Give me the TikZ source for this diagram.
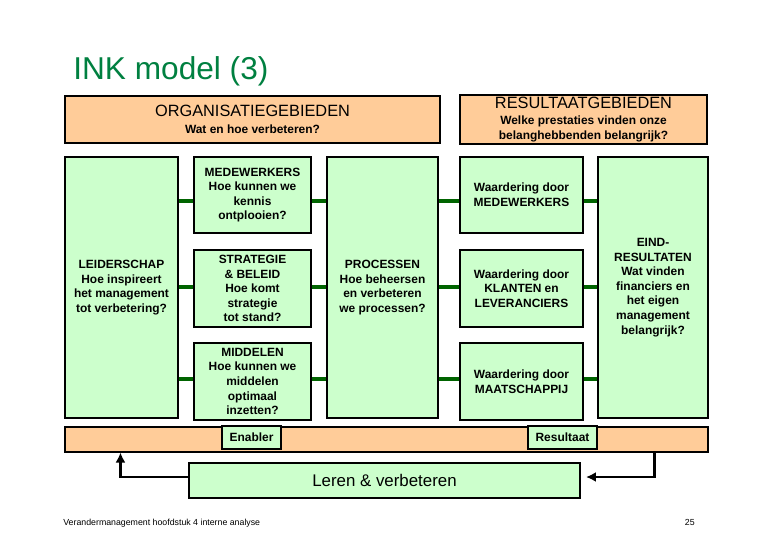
\documentclass[tikz,border=0pt]{standalone}
\usepackage{fontspec}
\setmainfont{Liberation Sans}
\usepackage{xcolor}
\usetikzlibrary{arrows.meta,positioning,calc,backgrounds}
\definecolor{areagreen}{RGB}{204,255,204}
\definecolor{areaorange}{RGB}{255,204,153}
\definecolor{bargreen}{RGB}{0,100,0}
\definecolor{titlegreen}{RGB}{0,128,64}
\def\px{0.02cm}
\newcommand\boxfont{\fontsize{6.8}{8.3}\selectfont\bfseries}
\newcommand\headfont{\fontsize{9.3}{11}\selectfont\mdseries}
\tikzset{
  area/.style 2 args={rectangle, draw=black, line width=1.1pt, fill=areagreen, align=center,
              minimum width=#1*\px, minimum height=#2*\px, inner sep=1pt, font=\boxfont},
  head/.style 2 args={rectangle, draw=black, line width=1.1pt, fill=areaorange, align=center,
              minimum width=#1*\px, minimum height=#2*\px, inner sep=1pt, font=\boxfont},
  strip/.style 2 args={rectangle, draw=black, line width=0.6pt, fill=areaorange,
              minimum width=#1*\px, minimum height=#2*\px, inner sep=0pt},
  tag/.style={rectangle, draw=black, line width=1.1pt, fill=areagreen, font=\boxfont,
              inner xsep=4.2pt, minimum height=23*\px},
  bar/.style={draw=black!85, line width=0.5pt, double=bargreen, double distance=1.8pt},
  feedback/.style={-{Latex[length=2mm,width=2mm]}, line width=1.5pt, black},
}
\begin{document}
\begin{tikzpicture}[x=\px, y=-\px]
\useasboundingbox (0,0) rectangle (780,540);
\node[anchor=base west, inner sep=0, text=titlegreen, font=\fontsize{18}{20}\selectfont] (title) at (73,80) {INK model (3)};
\node[head={375}{47}] (orghead) at (252.5,119.5) {{\headfont ORGANISATIEGEBIEDEN}\\[1.2pt] Wat en hoe verbeteren?};
\node[head={247}{47}] (reshead) at (583.5,119.5) {{\headfont RESULTAATGEBIEDEN}\\[1.2pt] Welke prestaties vinden onze\\ belanghebbenden belangrijk?};
\node[area={113}{261}] (lead) at (121.5,287.5) {LEIDERSCHAP\\Hoe inspireert\\het management\\tot verbetering?};
\node[area={117}{76}] (medew) at (252.5,195) {MEDEWERKERS\\Hoe kunnen we\\kennis\\ontplooien?};
\node[area={117}{77}] (strat) at (252.5,288.5) {STRATEGIE\\\& BELEID\\Hoe komt\\strategie\\tot stand?};
\node[area={117}{77}] (midd) at (252.5,381.5) {MIDDELEN\\Hoe kunnen we\\middelen\\optimaal\\inzetten?};
\node[area={111}{261}] (proc) at (382.5,287.5) {PROCESSEN\\Hoe beheersen\\en verbeteren\\we processen?};
\node[area={123}{76}] (wmed) at (521.5,195) {Waardering door\\MEDEWERKERS};
\node[area={123}{77}] (wkla) at (521.5,288.5) {Waardering door\\KLANTEN en\\LEVERANCIERS};
\node[area={123}{77}] (wmaat) at (521.5,381.5) {Waardering door\\MAATSCHAPPIJ};
\node[area={110}{261}] (eind) at (653,287.5) {EIND-\\RESULTATEN\\Wat vinden\\financiers en\\het eigen\\management\\belangrijk?};
\begin{scope}[on background layer]
\foreach \m/\w/\dy in {medew/wmed/6, strat/wkla/-1.5, midd/wmaat/-2.5} {
  \draw[bar] ($(lead.east|-\m.west)+(0,\dy)$) -- ($(\m.west)+(0,\dy)$);
  \draw[bar] ($(\m.east)+(0,\dy)$) -- ($(proc.west|-\m.east)+(0,\dy)$);
  \draw[bar] ($(proc.east|-\w.west)+(0,\dy)$) -- ($(\w.west)+(0,\dy)$);
  \draw[bar] ($(\w.east)+(0,\dy)$) -- ($(eind.west|-\w.east)+(0,\dy)$);
}
\end{scope}
\node[strip={643}{25}] (base) at (386.5,439.5) {};
\node[tag] (enab) at (251.5,437.5) {Enabler};
\node[tag] (result) at (562.5,437.5) {Resultaat};
\node[area={391}{35}, font=\fontsize{9.6}{11}\selectfont] (leren) at (384.5,480.5) {Leren \& verbeteren};
\draw[feedback] ([yshift=3.5*\px]leren.west) -| ([xshift=56*\px]base.south west);
\draw[feedback] ([xshift=-54*\px]base.south east) |- ([xshift=5*\px,yshift=3.5*\px]leren.east);
\node[anchor=base west, inner sep=0, font=\fontsize{5}{6}\selectfont] (foot) at (63,525) {Verandermanagement hoofdstuk 4 interne analyse};
\node[anchor=base east, inner sep=0, font=\fontsize{5}{6}\selectfont] (page) at (695,525) {25};
\end{tikzpicture}
\end{document}
